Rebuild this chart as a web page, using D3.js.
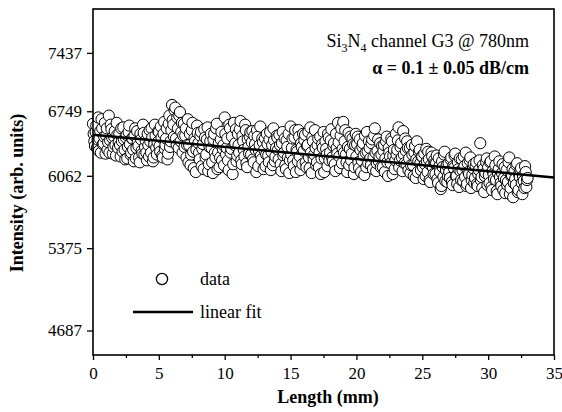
<!DOCTYPE html>
<html>
<head>
<meta charset="utf-8">
<script src="https://cdn.jsdelivr.net/npm/d3@7"></script>
<style>
  body { margin: 0; background: #fff; }
</style>
</head>
<body>
<script>
const serif = "'Liberation Serif', 'Times New Roman', Times, 'DejaVu Serif', serif"

// measured intensity, one point every 0.1 mm starting at 0 mm
const lengthStep = 0.1
const intensityA = [
  6610, 6420, 6520, 6350, 6680, 6450, 6300, 6560, 6400, 6620,
  6480, 6330, 6700, 6430, 6550, 6290, 6470, 6380, 6620, 6350,
  6500, 6260, 6420, 6570, 6330, 6460, 6240, 6520, 6390, 6300,
  6450, 6210, 6560, 6350, 6410, 6250, 6500, 6320, 6600, 6280,
  6430, 6220, 6380, 6540, 6300, 6460, 6250, 6600, 6350, 6410,
  6520, 6310, 6460, 6250, 6630, 6380, 6560, 6290, 6700, 6420,
  6820, 6600, 6760, 6450, 6680, 6350, 6740, 6520, 6300, 6610,
  6480, 6250, 6660, 6380, 6170, 6540, 6310, 6450, 6100, 6590,
  6400, 6230, 6520, 6340, 6130, 6460, 6280, 6570, 6180, 6420,
  6350, 6090, 6500, 6250, 6610, 6300, 6150, 6440, 6220, 6380,
  6680, 6280, 6450, 6120, 6560, 6340, 6080, 6620, 6400, 6210,
  6500, 6300, 6640, 6180, 6420, 6260, 6540, 6150, 6360, 6470,
  6280, 6530, 6200, 6390, 6100, 6470, 6320, 6580, 6230, 6410,
  6330, 6160, 6500, 6270, 6440, 6120, 6380, 6560, 6210, 6350,
  6460, 6230, 6380, 6110, 6520, 6300, 6170, 6430, 6250, 6090,
  6580, 6350, 6220, 6460, 6100, 6310, 6540, 6260, 6400, 6180,
  6320, 6490, 6150, 6380, 6250, 6570, 6090, 6420, 6280, 6350,
  6200, 6450, 6300, 6080, 6390, 6520, 6240, 6340, 6160, 6460,
  6300, 6550, 6210, 6400, 6110, 6350, 6620, 6260, 6480, 6190,
  6630, 6420, 6280, 6100, 6510, 6340, 6220, 6450, 6080, 6380,
  6260, 6470, 6140, 6330, 6220, 6400, 6070, 6300, 6520, 6190,
  6350, 6170, 6440, 6250, 6560, 6110, 6320, 6210, 6400, 6280,
  6150, 6380, 6240, 6470, 6060, 6300, 6190, 6420, 6270, 6130,
  6500, 6330, 6570, 6220, 6400, 6110, 6280, 6450, 6180, 6350,
  6240, 6090, 6380, 6170, 6300, 6040, 6420, 6210, 6330, 6120,
  6260, 6030, 6180, 6340, 6100, 6230, 6000, 6300, 6150, 6220,
  6080, 6270, 5990, 6160, 5930, 6210, 6050, 6310, 6120, 6000,
  6190, 6040, 6250, 5970, 6140, 6290, 6060, 6200, 5950, 6110,
  6230, 6010, 6160, 6300, 5980, 6100, 6220, 5940, 6070, 6180,
  6040, 6200, 5960, 6120, 6400, 6050, 6170, 5900, 6090, 6240,
  6150, 5990, 6210, 5920, 6080, 6260, 6020, 5880, 6130, 6050,
  5960, 6180, 6040, 5890, 6120, 6000, 6250, 5940, 6070, 5850,
  6110, 5970, 6190, 5920, 6050, 6140, 5880, 6010, 6160, 5950,
  6040
]
// second scan, starting at 0.05 mm
const offsetB = 0.05
const intensityB = [
  6500, 6370, 6590, 6440, 6320, 6530, 6660, 6390, 6470, 6290,
  6560, 6410, 6300, 6600, 6460, 6360, 6530, 6270, 6490, 6410,
  6380, 6560, 6310, 6440, 6230, 6490, 6360, 6590, 6280, 6450,
  6330, 6480, 6240, 6530, 6370, 6200, 6440, 6290, 6510, 6360,
  6300, 6500, 6260, 6420, 6560, 6210, 6390, 6480, 6280, 6530,
  6370, 6580, 6270, 6500, 6340, 6450, 6230, 6610, 6360, 6540,
  6650, 6470, 6790, 6380, 6560, 6700, 6420, 6620, 6480, 6360,
  6560, 6380, 6200, 6500, 6280, 6620, 6140, 6420, 6330, 6510,
  6300, 6480, 6160, 6390, 6550, 6250, 6440, 6110, 6360, 6500,
  6200, 6440, 6300, 6560, 6130, 6400, 6250, 6520, 6340, 6170,
  6500, 6350, 6220, 6600, 6300, 6470, 6180, 6380, 6550, 6270,
  6380, 6550, 6220, 6480, 6330, 6600, 6190, 6440, 6290, 6520,
  6410, 6230, 6480, 6330, 6540, 6160, 6380, 6270, 6450, 6130,
  6450, 6280, 6390, 6200, 6520, 6310, 6170, 6430, 6260, 6480,
  6330, 6490, 6180, 6400, 6270, 6450, 6130, 6360, 6500, 6220,
  6280, 6450, 6160, 6540, 6330, 6210, 6470, 6120, 6360, 6500,
  6430, 6200, 6370, 6520, 6140, 6300, 6460, 6230, 6540, 6170,
  6380, 6150, 6470, 6240, 6350, 6100, 6420, 6280, 6500, 6220,
  6430, 6250, 6370, 6180, 6500, 6290, 6410, 6140, 6560, 6340,
  6300, 6540, 6200, 6360, 6170, 6470, 6290, 6390, 6150, 6500,
  6390, 6200, 6440, 6100, 6360, 6270, 6480, 6150, 6310, 6420,
  6240, 6400, 6130, 6480, 6300, 6190, 6440, 6260, 6150, 6370,
  6320, 6100, 6420, 6200, 6350, 6260, 6450, 6080, 6330, 6220,
  6280, 6430, 6150, 6360, 6250, 6530, 6190, 6320, 6420, 6120,
  6350, 6170, 6280, 6060, 6370, 6230, 6100, 6310, 6190, 6260,
  6150, 6290, 6060, 6210, 6310, 6020, 6170, 6260, 6080, 6190,
  6190, 6030, 6240, 6100, 5960, 6150, 6280, 6010, 6170, 6060,
  6100, 6230, 6000, 6160, 6270, 6060, 5980, 6130, 6240, 6020,
  6120, 6260, 6050, 5960, 6190, 6080, 6250, 6020, 6140, 5990,
  6160, 5980, 6080, 6220, 6020, 5940, 6130, 6060, 6200, 5970,
  6070, 6200, 5950, 6110, 6030, 6170, 5910, 6090, 6210, 5990,
  6090, 5920, 6150, 6020, 5970, 6200, 5880, 6060, 6130, 5990,
  6030, 6170, 5900, 6080, 6120, 5990, 6060, 5940, 6100, 6020
]

// linear fit (straight line on the log axis)
const fitLength = [0, 35]
const fitIntensity = [6491, 6046]

const xTicks = [0, 5, 10, 15, 20, 25, 30, 35]
const xMinorTicks = [2.5, 7.5, 12.5, 17.5, 22.5, 27.5, 32.5]
const yTicks = [4687, 5375, 6062, 6749, 7437]

const svgWidth = 562
const svgHeight = 412
const margin = {top: 9, right: 8, bottom: 57, left: 93}
const gWidth = svgWidth - margin.left - margin.right
const gHeight = svgHeight - margin.top - margin.bottom

const svg = d3.select("body")
  .append("svg")
    .attr("width", svgWidth)
    .attr("height", svgHeight)
    .style("font-family", serif)

const xScale = d3.scaleLinear()
  .domain([0, 35])
  .range([margin.left, margin.left + gWidth])

const yScale = d3.scaleLog()
  .domain([4500, 8000])
  .range([margin.top + gHeight, margin.top])

// x axis
const gx = svg.append("g")
  .attr("transform", "translate(0," + (margin.top + gHeight) + ")")
  .call(d3.axisBottom(xScale).tickValues(xTicks).tickSize(5).tickFormat(d3.format("d")))
gx.select(".domain").remove()
gx.selectAll("text")
  .attr("y", 24).attr("dy", 0)
  .attr("font-size", 17)
  .attr("font-family", serif)

svg.append("g")
  .attr("transform", "translate(0," + (margin.top + gHeight) + ")")
  .call(d3.axisBottom(xScale).tickValues(xMinorTicks).tickSize(3).tickFormat(""))
  .select(".domain").remove()

// y axis
const gy = svg.append("g")
  .attr("transform", "translate(" + margin.left + ",0)")
  .call(d3.axisLeft(yScale).tickValues(yTicks).tickSize(6).tickPadding(5).tickFormat(d3.format("d")))
gy.select(".domain").remove()
gy.selectAll("text")
  .attr("font-size", 17)
  .attr("font-family", serif)

svg.selectAll(".tick line").attr("stroke-width", 1.3)

// data points, both scans merged in length order
const points = intensityA.map(function(v, i) {
  return {x: i * lengthStep, y: v}
}).concat(intensityB.map(function(v, i) {
  return {x: offsetB + i * lengthStep, y: v}
})).sort(function(a, b) { return a.x - b.x })

svg.append("g")
  .selectAll("circle")
  .data(points)
  .enter()
  .append("circle")
    .attr("cx", function(d) { return xScale(d.x) })
    .attr("cy", function(d) { return yScale(d.y) })
    .attr("r", 5.6)
    .attr("fill", "#fff")
    .attr("stroke", "#000")
    .attr("stroke-width", 1)

// fit line
const fitData = fitLength.map(function(x, i) { return {x: x, y: fitIntensity[i]} })
svg.append("path")
  .datum(fitData)
  .attr("d", d3.line()
    .x(function(d) { return xScale(d.x) })
    .y(function(d) { return yScale(d.y) }))
  .attr("stroke", "#000")
  .attr("stroke-width", 2.5)
  .attr("fill", "none")

// frame
svg.append("rect")
  .attr("x", margin.left)
  .attr("y", margin.top)
  .attr("width", gWidth)
  .attr("height", gHeight)
  .attr("fill", "none")
  .attr("stroke", "#000")
  .attr("stroke-width", 1.6)

// axis titles
svg.append("text")
  .attr("x", 328)
  .attr("y", 403)
  .attr("text-anchor", "middle")
  .attr("font-size", 18)
  .attr("font-weight", "bold")
  .attr("font-family", serif)
  .text("Length (mm)")

svg.append("text")
  .attr("transform", "translate(23,193) rotate(-90)")
  .attr("text-anchor", "middle")
  .attr("font-size", 18)
  .attr("font-weight", "bold")
  .attr("font-family", serif)
  .text("Intensity (arb. units)")

// annotation
const note = svg.append("text")
  .attr("x", 529)
  .attr("y", 47)
  .attr("text-anchor", "end")
  .attr("font-size", 18)
  .attr("font-family", serif)
note.append("tspan").text("Si")
note.append("tspan").attr("font-size", 12).attr("dy", 5).text("3")
note.append("tspan").attr("dy", -5).text("N")
note.append("tspan").attr("font-size", 12).attr("dy", 5).text("4")
note.append("tspan").attr("dy", -5).text(" channel G3 @ 780nm")

svg.append("text")
  .attr("x", 529)
  .attr("y", 74)
  .attr("text-anchor", "end")
  .attr("font-size", 18)
  .attr("font-weight", "bold")
  .attr("font-family", serif)
  .text("\u03b1 = 0.1 \u00b1 0.05 dB/cm")

// legend
svg.append("circle")
  .attr("cx", 162).attr("cy", 279).attr("r", 5.6)
  .attr("fill", "#fff").attr("stroke", "#000").attr("stroke-width", 1.3)
svg.append("text")
  .attr("x", 200).attr("y", 285)
  .attr("font-size", 18)
  .attr("font-family", serif)
  .text("data")
svg.append("line")
  .attr("x1", 133).attr("x2", 193)
  .attr("y1", 312).attr("y2", 312)
  .attr("stroke", "#000").attr("stroke-width", 2.5)
svg.append("text")
  .attr("x", 200).attr("y", 318)
  .attr("font-size", 18)
  .attr("font-family", serif)
  .text("linear fit")
</script>
</body>
</html>
